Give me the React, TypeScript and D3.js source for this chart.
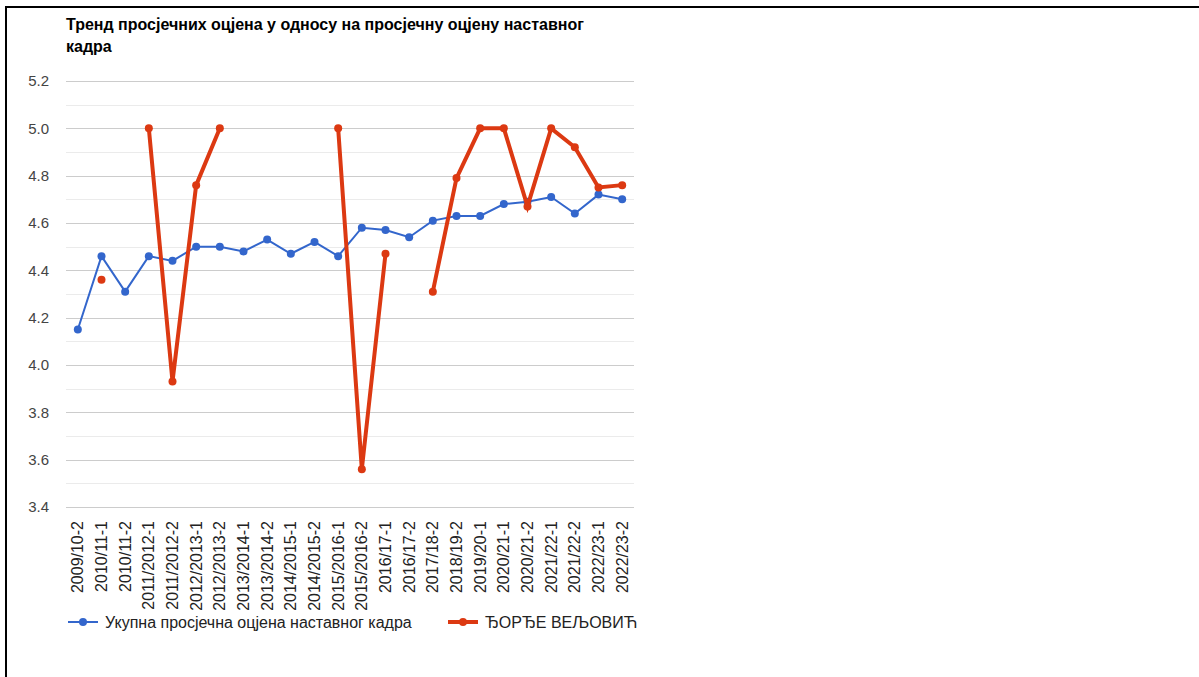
import { useRef, useEffect } from "react";
import * as d3 from "d3";

const categories = [
  "2009/10-2", "2010/11-1", "2010/11-2", "2011/2012-1", "2011/2012-2", "2012/2013-1",
  "2012/2013-2", "2013/2014-1", "2013/2014-2", "2014/2015-1", "2014/2015-2", "2015/2016-1",
  "2015/2016-2", "2016/17-1", "2016/17-2", "2017/18-2", "2018/19-2", "2019/20-1",
  "2020/21-1", "2020/21-2", "2021/22-1", "2021/22-2", "2022/23-1", "2022/23-2",
];

const staffAvg = [
  4.15, 4.46, 4.31, 4.46, 4.44, 4.5, 4.5, 4.48, 4.53, 4.47, 4.52, 4.46,
  4.58, 4.57, 4.54, 4.61, 4.63, 4.63, 4.68, 4.69, 4.71, 4.64, 4.72, 4.7,
];

const teacherAvg: (number | null)[] = [
  null, 4.36, null, 5.0, 3.93, 4.76, 5.0, null, null, null, null, 5.0,
  3.56, 4.47, null, 4.31, 4.79, 5.0, 5.0, 4.67, 5.0, 4.92, 4.75, 4.76,
];

const yTicks = [3.4, 3.6, 3.8, 4.0, 4.2, 4.4, 4.6, 4.8, 5.0, 5.2];
const yMinor = [3.5, 3.7, 3.9, 4.1, 4.3, 4.5, 4.7, 4.9, 5.1];

const titleLines = ["Тренд просјечних оцјена у односу на просјечну оцјену наставног", "кадра"];
const seriesNames = ["Укупна просјечна оцјена наставног кадра", "ЂОРЂЕ ВЕЉОВИЋ"];

const BLUE = "#3366cc";
const RED = "#dc3912";

export default function App() {
  const svgRef = useRef<SVGSVGElement>(null);

  useEffect(() => {
    if (!svgRef.current) return;
    const svg = d3.select(svgRef.current);
    svg.selectAll("*").remove();

    const font = "Arial, 'Liberation Sans', sans-serif";
    const plot = { left: 66, right: 634, top: 81, bottom: 507 };

    // frame
    svg.append("rect").attr("x", 6).attr("y", 7).attr("width", 1300).attr("height", 800)
      .attr("fill", "white").attr("stroke", "black").attr("stroke-width", 2);

    // title
    svg.append("g").selectAll("text").data(titleLines).join("text")
      .attr("x", 66).attr("y", (_, i) => 30 + i * 22)
      .attr("font-family", font).attr("font-size", 16).attr("font-weight", "bold")
      .attr("fill", "#000").text((d) => d);

    const x = d3.scaleBand<string>().domain(categories).range([plot.left, plot.right]);
    const cx = (i: number) => x(categories[i])! + x.bandwidth() / 2;
    const y = d3.scaleLinear().domain([3.4, 5.2]).range([plot.bottom, plot.top]);

    // gridlines
    svg.append("g").selectAll("line").data(yMinor).join("line")
      .attr("x1", plot.left).attr("x2", plot.right)
      .attr("y1", (d) => Math.round(y(d)) + 0.5).attr("y2", (d) => Math.round(y(d)) + 0.5)
      .attr("stroke", "#ebebeb");
    svg.append("g").selectAll("line").data(yTicks).join("line")
      .attr("x1", plot.left).attr("x2", plot.right)
      .attr("y1", (d) => Math.round(y(d)) + 0.5).attr("y2", (d) => Math.round(y(d)) + 0.5)
      .attr("stroke", "#cccccc");

    // y labels
    svg.append("g").selectAll("text").data(yTicks).join("text")
      .attr("x", 49).attr("y", (d) => y(d)).attr("dy", "0.35em")
      .attr("text-anchor", "end").attr("font-family", font).attr("font-size", 15)
      .attr("fill", "#444").text((d) => d.toFixed(1));

    // x labels
    svg.append("g").selectAll("text").data(categories).join("text")
      .attr("transform", (_, i) => `translate(${cx(i)},521) rotate(-90)`)
      .attr("dy", "0.35em").attr("text-anchor", "end")
      .attr("font-family", font).attr("font-size", 16).attr("fill", "#222")
      .text((d) => d);

    // blue series
    const lineBlue = d3.line<number>().x((_, i) => cx(i)).y((d) => y(d));
    svg.append("path").datum(staffAvg).attr("d", lineBlue)
      .attr("fill", "none").attr("stroke", BLUE).attr("stroke-width", 2);
    svg.append("g").selectAll("circle").data(staffAvg).join("circle")
      .attr("cx", (_, i) => cx(i)).attr("cy", (d) => y(d)).attr("r", 4).attr("fill", BLUE);

    // red series
    const lineRed = d3.line<number | null>().defined((d) => d !== null)
      .x((_, i) => cx(i)).y((d) => y(d as number));
    svg.append("path").datum(teacherAvg).attr("d", lineRed)
      .attr("fill", "none").attr("stroke", RED).attr("stroke-width", 4);
    svg.append("g").selectAll("circle")
      .data(teacherAvg.map((v, i) => ({ v, i })).filter((d) => d.v !== null))
      .join("circle")
      .attr("cx", (d) => cx(d.i)).attr("cy", (d) => y(d.v as number)).attr("r", 4).attr("fill", RED);

    // legend
    const legend = [
      { name: seriesNames[0], color: BLUE, w: 2, x0: 68 },
      { name: seriesNames[1], color: RED, w: 4, x0: 448 },
    ];
    const lg = svg.append("g").selectAll("g").data(legend).join("g")
      .attr("transform", (d) => `translate(${d.x0},622)`);
    lg.append("line").attr("x1", 0).attr("x2", 30).attr("y1", 0).attr("y2", 0)
      .attr("stroke", (d) => d.color).attr("stroke-width", (d) => d.w);
    lg.append("circle").attr("cx", 15).attr("cy", 0).attr("r", 4).attr("fill", (d) => d.color);
    lg.append("text").attr("x", 37).attr("dy", "0.35em")
      .attr("font-family", font).attr("font-size", 16).attr("fill", "#222")
      .text((d) => d.name);
  }, []);

  return (
    <svg
      ref={svgRef}
      width={1199}
      height={677}
      style={{ position: "absolute", left: 0, top: 0, background: "white" }}
    />
  );
}
